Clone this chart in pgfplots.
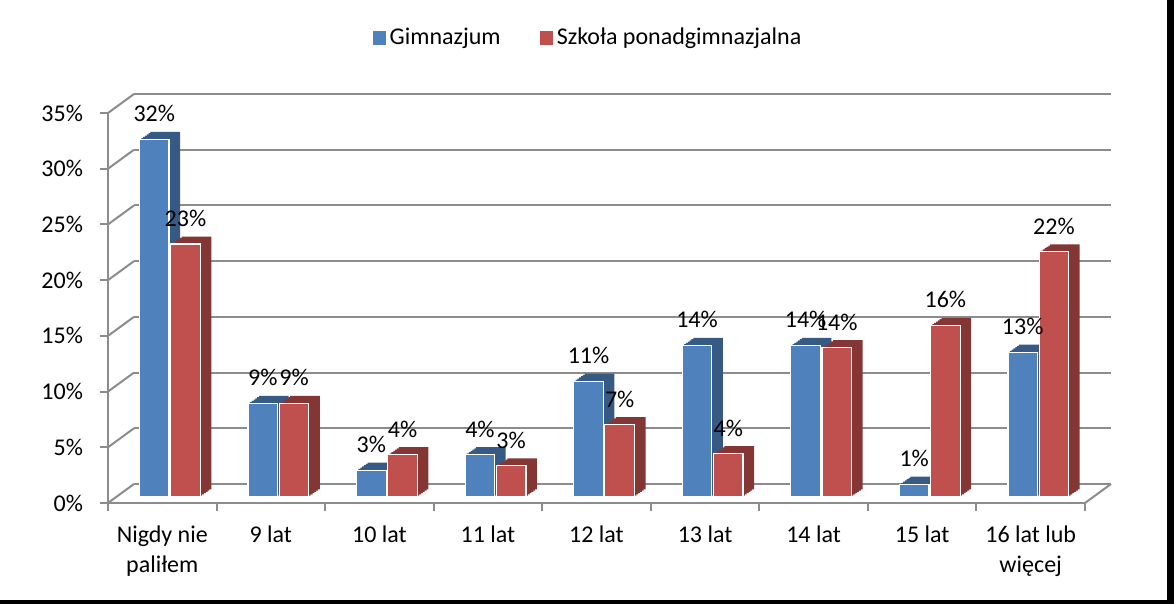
\documentclass[border=0pt]{standalone}
\usepackage{pgfplots}
\pgfplotsset{compat=1.18}
\usepackage{pgfplotstable}
\usepackage{fontspec}
\setmainfont{Carlito}
\definecolor{bluef}{HTML}{4F81BD}
\definecolor{blued}{HTML}{375A85}
\definecolor{redf}{HTML}{C0504D}
\definecolor{redd}{HTML}{843634}
\definecolor{gridc}{HTML}{8C8C8C}
\newcommand\cf{\fontsize{12}{15}\selectfont}

\pgfplotstableread{
x y lab
0 32.1 32
1 8.4 9
2 2.4 3
3 3.8 4
4 10.4 11
5 13.6 14
6 13.6 14
7 1.15 1
8 13.0 13
}\gim
\pgfplotstableread{
x y lab
0 22.7 23
1 8.4 9
2 3.8 4
3 2.8 3
4 6.5 7
5 3.9 4
6 13.4 14
7 15.4 16
8 22.0 22
}\szk

\newcommand\sweep[4]{%
\addplot[ybar, bar width=14.8pt, bar shift=#2, fill=#3, draw=none,
  xshift=#4*0.917pt, yshift=#4*0.625pt, forget plot] table[x=x,y=y] {#1};}

\begin{document}
\begin{tikzpicture}[font=\cf]
\useasboundingbox (0,0) rectangle (587pt,302pt);
\pgfplotsset{base/.style={scale only axis, width=488.5pt, height=195pt,
  xmin=-0.5, xmax=8.5, ymin=0, ymax=35, anchor=south west}}
% back wall with gridlines
\begin{axis}[base, at={(67pt,60pt)}, axis line style={draw=none},
  ytick={0,5,...,35}, xtick=\empty, yticklabels={}, ymajorgrids,
  major grid style={gridc, line width=1pt}, major tick length=0pt]
\end{axis}
% front: axes, ticks, labels
\begin{axis}[base, at={(54pt,50.5pt)}, clip=false,
  axis x line*=bottom, axis y line*=left,
  axis line style={gridc, line width=1pt},
  ytick={0,5,...,35},
  yticklabel={\pgfmathprintnumber{\tick}\%},
  /pgf/number format/assume math mode=true,
  yticklabel style={xshift=-5pt},
  xtick={-0.5,0.5,...,8.5}, xticklabels={},
  extra x ticks={0,1,2,3,4,5,6,7,8},
  extra x tick labels={{Nigdy nie\\paliłem},9 lat,10 lat,11 lat,12 lat,13 lat,14 lat,15 lat,{16 lat lub\\więcej}},
  extra x tick style={major tick length=0pt, xticklabel style={align=center, yshift=-8pt}},
  tick align=outside, major tick length=4pt,
  tick style={gridc, line width=1pt}]
\pgfplotsinvokeforeach{0,5,...,35}{\draw[gridc,line width=1pt] (axis cs:-0.5,#1) -- ++(13pt,9.5pt);}
\draw[gridc,line width=1pt] (axis cs:8.5,0) -- ++(13pt,9.5pt);
\end{axis}
% bars
\begin{axis}[base, at={(54pt,53.5pt)}, hide axis, clip=false,
  legend style={at={(0.4923,1.177)}, anchor=center, draw=none, fill=none,
    legend columns=-1, font=\cf,
    /tikz/every even column/.append style={column sep=17.5pt}}]
\sweep{\gim}{-4pt}{blued}{6}
\sweep{\gim}{-4pt}{blued}{5}
\sweep{\gim}{-4pt}{blued}{4}
\sweep{\gim}{-4pt}{blued}{3}
\sweep{\gim}{-4pt}{blued}{2}
\sweep{\gim}{-4pt}{blued}{1}
\addplot[ybar, bar width=14.8pt, bar shift=-4pt, fill=bluef, draw=white, line width=0.6pt,
  point meta=explicit symbolic, nodes near coords={\pgfplotspointmeta\%},
  nodes near coords style={font=\cf, text=black, yshift=5pt, xshift=-4pt},
  legend image code/.code={\fill[bluef] (0pt,-3pt) rectangle (6pt,3pt);}]
  table[x=x,y=y,meta=lab] {\gim};
\addlegendentry{Gimnazjum}
\sweep{\szk}{11.6pt}{redd}{6}
\sweep{\szk}{11.6pt}{redd}{5}
\sweep{\szk}{11.6pt}{redd}{4}
\sweep{\szk}{11.6pt}{redd}{3}
\sweep{\szk}{11.6pt}{redd}{2}
\sweep{\szk}{11.6pt}{redd}{1}
\addplot[ybar, bar width=14.8pt, bar shift=11.6pt, fill=redf, draw=white, line width=0.6pt,
  point meta=explicit symbolic, nodes near coords={\pgfplotspointmeta\%},
  nodes near coords style={font=\cf, text=black, yshift=5pt, xshift=11.6pt},
  legend image code/.code={\fill[redf] (0pt,-3pt) rectangle (6pt,3pt);}]
  table[x=x,y=y,meta=lab] {\szk};
\addlegendentry{Szkoła ponadgimnazjalna}
\end{axis}
\fill[black] (583.5pt,0pt) rectangle (587pt,302pt);
\fill[black] (0pt,0pt) rectangle (587pt,2pt);
\end{tikzpicture}
\end{document}
